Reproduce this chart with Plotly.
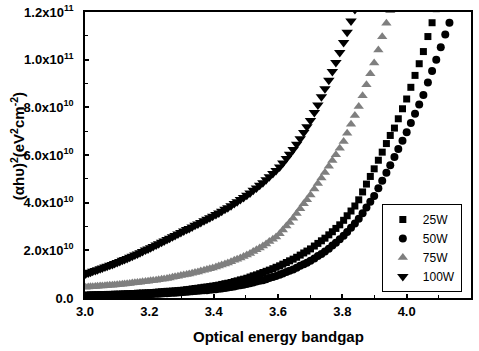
import plotly.graph_objects as go

# Photon energy (eV) of each measured point
energy = [3.002, 3.010, 3.017, 3.024, 3.032, 3.039, 3.047, 3.054, 3.062, 3.069,
          3.077, 3.085, 3.092, 3.100, 3.108, 3.116, 3.123, 3.131, 3.139, 3.147,
          3.155, 3.163, 3.171, 3.179, 3.188, 3.196, 3.204, 3.212, 3.221, 3.229,
          3.238, 3.246, 3.255, 3.263, 3.272, 3.280, 3.289, 3.298, 3.307, 3.316,
          3.324, 3.333, 3.342, 3.351, 3.360, 3.370, 3.379, 3.388, 3.397, 3.407,
          3.416, 3.425, 3.435, 3.444, 3.454, 3.464, 3.473, 3.483, 3.493, 3.503,
          3.513, 3.523, 3.533, 3.543, 3.553, 3.563, 3.573, 3.584, 3.594, 3.605,
          3.615, 3.626, 3.636, 3.647, 3.658, 3.669, 3.680, 3.690, 3.701, 3.713,
          3.724, 3.735, 3.746, 3.758, 3.769, 3.780, 3.792, 3.804, 3.815, 3.827,
          3.839, 3.851, 3.863, 3.875, 3.887, 3.899, 3.912, 3.924, 3.937, 3.949,
          3.962, 3.974, 3.987, 4.000, 4.013, 4.026, 4.039, 4.052, 4.066, 4.079,
          4.092, 4.106, 4.120, 4.133]

# (alpha h nu)^2 in units of 1e10 eV^2 cm^-2
w25 = [0.12, 0.12, 0.13, 0.13, 0.13, 0.14, 0.14, 0.14, 0.14, 0.15,
       0.15, 0.15, 0.16, 0.16, 0.16, 0.17, 0.17, 0.18, 0.18, 0.19,
       0.19, 0.20, 0.20, 0.21, 0.21, 0.22, 0.22, 0.23, 0.24, 0.25,
       0.26, 0.27, 0.28, 0.28, 0.29, 0.30, 0.31, 0.32, 0.33, 0.35,
       0.36, 0.38, 0.40, 0.41, 0.43, 0.45, 0.46, 0.48, 0.50, 0.52,
       0.54, 0.57, 0.60, 0.62, 0.65, 0.69, 0.72, 0.76, 0.79, 0.83,
       0.88, 0.93, 0.97, 1.02, 1.07, 1.12, 1.17, 1.23, 1.29, 1.35,
       1.42, 1.49, 1.56, 1.63, 1.71, 1.80, 1.89, 1.97, 2.06, 2.18,
       2.29, 2.40, 2.51, 2.65, 2.78, 2.92, 3.07, 3.26, 3.45, 3.65,
       3.86, 4.12, 4.45, 4.78, 5.10, 5.42, 5.78, 6.12, 6.48, 6.82,
       7.13, 7.52, 7.94, 8.35, 8.84, 9.34, 9.83, 10.34, 10.97, 11.55,
       12.14]

w50 = [0.08, 0.08, 0.09, 0.09, 0.09, 0.09, 0.09, 0.10, 0.10, 0.10,
       0.10, 0.11, 0.11, 0.11, 0.11, 0.12, 0.12, 0.12, 0.13, 0.13,
       0.14, 0.14, 0.15, 0.15, 0.15, 0.16, 0.16, 0.17, 0.18, 0.18,
       0.19, 0.20, 0.20, 0.21, 0.22, 0.22, 0.23, 0.24, 0.25, 0.26,
       0.27, 0.28, 0.29, 0.30, 0.31, 0.32, 0.33, 0.35, 0.36, 0.37,
       0.39, 0.40, 0.42, 0.44, 0.46, 0.48, 0.51, 0.54, 0.56, 0.59,
       0.62, 0.65, 0.69, 0.72, 0.75, 0.79, 0.84, 0.88, 0.92, 0.98,
       1.03, 1.09, 1.14, 1.20, 1.27, 1.35, 1.42, 1.48, 1.56, 1.66,
       1.76, 1.85, 1.95, 2.07, 2.20, 2.32, 2.46, 2.61, 2.77, 2.95,
       3.13, 3.32, 3.56, 3.80, 4.04, 4.28, 4.61, 4.92, 5.26, 5.57,
       5.92, 6.25, 6.60, 6.95, 7.34, 7.73, 8.12, 8.52, 9.04, 9.52,
       10.00, 10.52, 11.06, 11.55]

w75 = [0.45, 0.46, 0.47, 0.47, 0.48, 0.49, 0.50, 0.50, 0.51, 0.52,
       0.53, 0.54, 0.55, 0.56, 0.57, 0.58, 0.59, 0.60, 0.61, 0.63,
       0.64, 0.65, 0.66, 0.68, 0.69, 0.70, 0.72, 0.73, 0.75, 0.77,
       0.79, 0.80, 0.82, 0.84, 0.87, 0.89, 0.91, 0.94, 0.96, 0.99,
       1.01, 1.04, 1.07, 1.09, 1.13, 1.16, 1.20, 1.23, 1.26, 1.30,
       1.34, 1.38, 1.43, 1.47, 1.52, 1.58, 1.63, 1.68, 1.74, 1.80,
       1.87, 1.95, 2.02, 2.10, 2.18, 2.27, 2.37, 2.47, 2.56, 2.70,
       2.85, 3.02, 3.17, 3.35, 3.55, 3.75, 3.95, 4.12, 4.32, 4.57,
       4.80, 5.04, 5.27, 5.53, 5.77, 6.01, 6.28, 6.57, 6.91, 7.29,
       7.66, 8.04, 8.49, 8.95, 9.41, 9.86, 10.41, 10.96, 11.53, 12.05]

w100 = [1.01, 1.05, 1.08, 1.12, 1.15, 1.19, 1.23, 1.26, 1.30, 1.33,
        1.37, 1.41, 1.45, 1.49, 1.53, 1.58, 1.62, 1.66, 1.71, 1.75,
        1.80, 1.85, 1.90, 1.95, 2.01, 2.06, 2.11, 2.16, 2.22, 2.28,
        2.34, 2.39, 2.45, 2.51, 2.57, 2.62, 2.69, 2.75, 2.81, 2.87,
        2.92, 2.98, 3.05, 3.11, 3.17, 3.24, 3.30, 3.37, 3.43, 3.50,
        3.57, 3.64, 3.72, 3.79, 3.87, 3.96, 4.04, 4.13, 4.22, 4.31,
        4.41, 4.52, 4.62, 4.73, 4.84, 4.96, 5.09, 5.22, 5.35, 5.50,
        5.66, 5.85, 6.03, 6.23, 6.45, 6.68, 6.94, 7.19, 7.45, 7.78,
        8.10, 8.44, 8.78, 9.14, 9.50, 9.88, 10.30, 10.72, 11.15, 11.62,
        12.10]

series_names = ["25W", "50W", "75W", "100W"]
x_tick_vals = [3.0, 3.2, 3.4, 3.6, 3.8, 4.0, 4.2]
x_tick_text = ["3.0", "3.2", "3.4", "3.6", "3.8", "4.0", "4.2"]
y_tick_vals = [0, 2, 4, 6, 8, 10, 12]
y_tick_text = ["0.0", "2.0x10<sup>10</sup>", "4.0x10<sup>10</sup>", "6.0x10<sup>10</sup>",
               "8.0x10<sup>10</sup>", "1.0x10<sup>11</sup>", "1.2x10<sup>11</sup>"]

FONT = "Liberation Sans, Arial, sans-serif"

fig = go.Figure()
styles = [
    (w25, "square", "black", 7),
    (w50, "circle", "black", 8),
    (w75, "triangle-up", "#7f7f7f", 9),
    (w100, "triangle-down", "black", 10),
]
for name, (vals, sym, col, sz) in zip(series_names, styles):
    fig.add_trace(go.Scatter(
        x=energy[:len(vals)], y=vals, mode="markers", name=name,
        marker=dict(symbol=sym, color=col, size=sz, line=dict(width=0)),
    ))

axis_common = dict(
    showline=True, linecolor="black", linewidth=1.8, mirror=True,
    ticks="inside", ticklen=4, tickwidth=1.5, tickcolor="black",
    showgrid=False, zeroline=False, automargin=False,
    tickfont=dict(family=FONT, size=13, color="black", weight="bold"),
)

fig.update_xaxes(
    range=[3.0, 4.2], tickvals=x_tick_vals, ticktext=x_tick_text,
    minor=dict(ticks="inside", ticklen=3, tickwidth=1.2, tickcolor="black", dtick=0.1, tick0=3.0),
    **axis_common,
)
fig.update_yaxes(
    range=[0, 12], tickvals=y_tick_vals, ticktext=y_tick_text,
    ticklabelstandoff=7,
    minor=dict(ticks="inside", ticklen=3, tickwidth=1.2, tickcolor="black", dtick=1, tick0=0),
    **axis_common,
)

fig.add_annotation(
    text="Optical energy bandgap", xref="paper", yref="paper",
    x=0.5, y=-0.136, xanchor="center", yanchor="middle", showarrow=False,
    font=dict(family=FONT, size=15, color="black", weight="bold"),
)
fig.add_annotation(
    text="(αhυ)<sup>2</sup>(eV<sup>2</sup>cm<sup>-2</sup>)", xref="paper", yref="paper",
    x=-0.176, y=0.531, xanchor="center", yanchor="middle", textangle=-90, showarrow=False,
    font=dict(family=FONT, size=15, color="black", weight="bold"),
)

fig.update_layout(
    width=479, height=351,
    margin=dict(l=85, r=8, t=12, b=53),
    paper_bgcolor="white", plot_bgcolor="white",
    showlegend=True,
    legend=dict(
        x=0.769, y=0.329, xanchor="left", yanchor="top",
        bordercolor="black", borderwidth=1, bgcolor="white",
        font=dict(family=FONT, size=12, color="black"),
        itemsizing="trace", tracegroupgap=0,
    ),
)

fig.write_html("out.html")
